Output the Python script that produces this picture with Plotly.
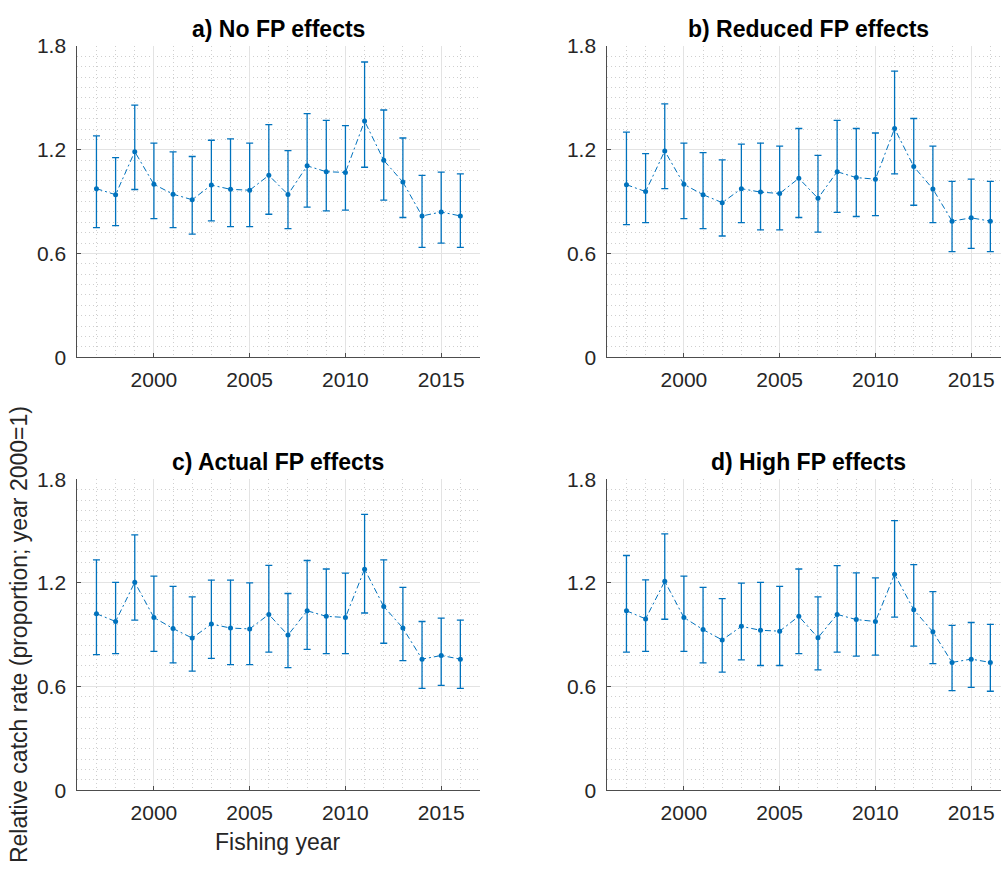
import plotly.graph_objects as go

# Fishing years
years = list(range(1997, 2017))

# a) No FP effects
no_fp_mean = [0.975, 0.940, 1.189, 1.000, 0.943, 0.911, 0.996, 0.971, 0.966, 1.052,
              0.941, 1.107, 1.073, 1.069, 1.366, 1.139, 1.013, 0.817, 0.840, 0.817]
no_fp_upper = [1.280, 1.154, 1.458, 1.238, 1.188, 1.161, 1.255, 1.263, 1.238, 1.345,
               1.195, 1.409, 1.370, 1.340, 1.708, 1.430, 1.268, 1.052, 1.071, 1.060]
no_fp_lower = [0.750, 0.761, 0.970, 0.802, 0.750, 0.712, 0.789, 0.755, 0.755, 0.827,
               0.744, 0.868, 0.846, 0.851, 1.099, 0.909, 0.808, 0.635, 0.660, 0.635]

# b) Reduced FP effects
reduced_mean = [0.998, 0.958, 1.193, 1.000, 0.940, 0.894, 0.975, 0.955, 0.947, 1.035,
                0.919, 1.073, 1.039, 1.030, 1.323, 1.103, 0.973, 0.787, 0.806, 0.787]
reduced_upper = [1.302, 1.178, 1.466, 1.238, 1.184, 1.142, 1.233, 1.238, 1.221, 1.323,
                 1.167, 1.370, 1.323, 1.297, 1.655, 1.381, 1.221, 1.017, 1.030, 1.017]
reduced_lower = [0.767, 0.778, 0.975, 0.802, 0.744, 0.701, 0.778, 0.737, 0.737, 0.808,
                 0.723, 0.838, 0.814, 0.819, 1.060, 0.879, 0.778, 0.611, 0.629, 0.611]

# c) Actual FP effects
actual_mean = [1.022, 0.977, 1.204, 1.000, 0.936, 0.881, 0.962, 0.939, 0.934, 1.018,
               0.898, 1.039, 1.007, 1.000, 1.280, 1.064, 0.939, 0.759, 0.780, 0.759]
actual_upper = [1.334, 1.204, 1.479, 1.240, 1.180, 1.120, 1.216, 1.216, 1.201, 1.302,
                1.139, 1.330, 1.281, 1.257, 1.597, 1.334, 1.174, 0.977, 0.996, 0.985]
actual_lower = [0.785, 0.791, 0.985, 0.804, 0.737, 0.690, 0.763, 0.727, 0.727, 0.799,
                0.710, 0.815, 0.791, 0.791, 1.026, 0.851, 0.750, 0.590, 0.607, 0.590]

# d) High FP effects
high_mean = [1.039, 0.992, 1.210, 1.000, 0.930, 0.870, 0.949, 0.926, 0.921, 1.007,
             0.883, 1.018, 0.988, 0.977, 1.251, 1.045, 0.917, 0.740, 0.759, 0.740]
high_upper = [1.359, 1.218, 1.484, 1.240, 1.174, 1.109, 1.199, 1.204, 1.180, 1.281,
              1.120, 1.300, 1.259, 1.229, 1.561, 1.306, 1.150, 0.955, 0.971, 0.960]
high_lower = [0.799, 0.804, 0.990, 0.804, 0.737, 0.684, 0.755, 0.722, 0.722, 0.791,
              0.697, 0.799, 0.776, 0.782, 1.002, 0.834, 0.733, 0.577, 0.596, 0.573]

panel_titles = ["a) No FP effects", "b) Reduced FP effects",
                "c) Actual FP effects", "d) High FP effects"]
x_ticks = [2000, 2005, 2010, 2015]
y_ticks = [0, 0.6, 1.2, 1.8]

W, H = 1001, 872
BLUE = "#0072BD"
AXIS = "#4d4d4d"
TEXT = "#262626"
FONT = "Liberation Sans, Arial, Helvetica, sans-serif"

# pixel boxes of each axes: (left, right, top, bottom)
boxes = [(77.3, 479.5, 35, 354.5), (607.3, 1001, 35, 354.5),
         (77.3, 479.5, 480, 799.3), (607.3, 1001, 480, 799.3)]
px_per_year = (479.5 - 77.3) / 21.0

series = [(no_fp_mean, no_fp_lower, no_fp_upper),
          (reduced_mean, reduced_lower, reduced_upper),
          (actual_mean, actual_lower, actual_upper),
          (high_mean, high_lower, high_upper)]

fig = go.Figure()
annotations = []

for i, ((mean, lower, upper), (l, r, t, b), title) in enumerate(zip(series, boxes, panel_titles)):
    k = "" if i == 0 else str(i + 1)
    err_plus = [u - m for u, m in zip(upper, mean)]
    err_minus = [m - lo for m, lo in zip(mean, lower)]
    fig.add_trace(go.Scatter(
        x=years, y=mean, mode="lines+markers",
        xaxis="x" + k, yaxis="y" + k,
        line=dict(color=BLUE, width=1, dash="6px,3px,2px,3px"),
        marker=dict(color=BLUE, size=5),
        error_y=dict(type="data", symmetric=False, array=err_plus, arrayminus=err_minus,
                     color=BLUE, thickness=1.3, width=3.5),
        showlegend=False,
        cliponaxis=False,
    ))
    x_end = 1996 + (r - l) / px_per_year
    common = dict(
        showline=True, linecolor=AXIS, linewidth=1,
        ticks="inside", ticklen=4, tickcolor=AXIS, tickwidth=1,
        showgrid=True, gridcolor="#e3e3e3", gridwidth=1,
        zeroline=False,
        tickfont=dict(family=FONT, size=21, color=TEXT),
        fixedrange=True,
    )
    minor_grid = dict(showgrid=True, gridcolor="#cfcfcf", griddash="1px,3px", gridwidth=1)
    fig.layout["xaxis" + k] = dict(
        common, domain=[l / W, r / W], anchor="y" + k,
        range=[1996, x_end], tickvals=x_ticks,
        minor=dict(minor_grid, dtick=1, tick0=1996),
        ticklabelstandoff=4,
    )
    fig.layout["yaxis" + k] = dict(
        common, domain=[1 - b / H, 1 - t / H], anchor="x" + k,
        range=[0, 1.8], tickvals=y_ticks, ticktext=["0", "0.6", "1.2", "1.8"],
        minor=dict(minor_grid, dtick=0.06, tick0=0),
        ticklabelstandoff=6,
    )
    # panel title, centred over the full axes width
    annotations.append(dict(
        text="<b>" + title + "</b>", xref="paper", yref="paper",
        x=(l + 402.2 / 2) / W, y=1 - (t - 18) / H,
        showarrow=False, xanchor="center", yanchor="middle",
        font=dict(family=FONT, size=23, color="#000000"),
    ))

annotations.append(dict(
    text="Fishing year", xref="paper", yref="paper",
    x=(77.3 + 479.5) / 2 / W, y=1 - 852 / H,
    showarrow=False, xanchor="center", yanchor="middle",
    font=dict(family=FONT, size=23, color=TEXT),
))
annotations.append(dict(
    text="Relative catch rate (proportion; year 2000=1)", xref="paper", yref="paper",
    x=19 / W, y=1 - 640 / H, textangle=-90,
    showarrow=False, xanchor="center", yanchor="middle",
    font=dict(family=FONT, size=23, color=TEXT),
))

fig.update_layout(
    width=W, height=H,
    margin=dict(l=0, r=0, t=0, b=0),
    paper_bgcolor="white", plot_bgcolor="white",
    annotations=annotations,
)

fig.write_html("out.html", config={"displayModeBar": False})
